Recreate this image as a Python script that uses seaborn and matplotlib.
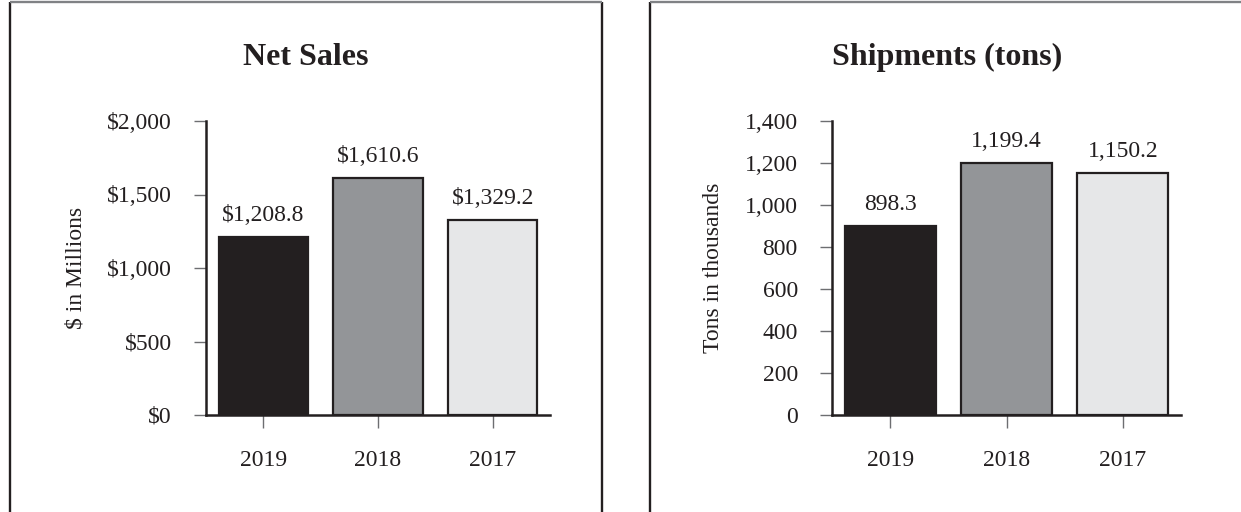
import matplotlib
matplotlib.use("Agg")
import matplotlib.pyplot as plt
from matplotlib.lines import Line2D
import seaborn as sns
import pandas as pd

# Fiscal years shown on both charts
years = ["2019", "2018", "2017"]

# Net sales ($ in millions)
net_sales = [1208.8, 1610.6, 1329.2]
net_sales_labels = ["$1,208.8", "$1,610.6", "$1,329.2"]
sales_ticks = [0, 500, 1000, 1500, 2000]
sales_tick_labels = ["$0", "$500", "$1,000", "$1,500", "$2,000"]

# Shipments (tons in thousands)
shipments = [898.3, 1199.4, 1150.2]
shipments_labels = ["898.3", "1,199.4", "1,150.2"]
ship_ticks = [0, 200, 400, 600, 800, 1000, 1200, 1400]
ship_tick_labels = ["0", "200", "400", "600", "800", "1,000", "1,200", "1,400"]

bar_colors = ["#231f20", "#939598", "#e6e7e8"]
ink = "#231f20"

sns.set_theme(style="white")
plt.rcParams["font.family"] = ["Liberation Serif", "DejaVu Serif"]
plt.rcParams["text.color"] = ink
plt.rcParams["axes.labelcolor"] = ink
plt.rcParams["xtick.color"] = "#6d6e71"
plt.rcParams["ytick.color"] = "#6d6e71"
plt.rcParams["xtick.labelcolor"] = ink
plt.rcParams["ytick.labelcolor"] = ink

fig = plt.figure(figsize=(12.41, 5.12), dpi=100)

ax_sales = fig.add_axes([206 / 1241, 97 / 512, 344 / 1241, 294 / 512])
ax_ship = fig.add_axes([832 / 1241, 97 / 512, 349 / 1241, 294 / 512])


def draw_panel(ax, values, value_labels, ticks, tick_labels, ylabel):
    df = pd.DataFrame({"year": years, "value": values})
    sns.barplot(data=df, x="year", y="value", hue="year", order=years,
                hue_order=years, palette=bar_colors, saturation=1,
                width=0.78, edgecolor=ink, linewidth=1.6, legend=False, ax=ax)
    ax.set_xlim(-0.5, len(years) - 0.5)
    ax.set_ylim(ticks[0], ticks[-1])
    ax.set_yticks(ticks)
    ax.set_yticklabels(tick_labels)
    ax.set_xlabel("")
    ax.set_ylabel(ylabel, fontsize=17, labelpad=15)
    ax.tick_params(axis="y", length=8.6, width=1.0, pad=16, labelsize=17,
                   left=True, direction="out")
    ax.tick_params(axis="x", length=9.4, width=1.0, pad=16, labelsize=17,
                   bottom=True, direction="out")
    for side in ("top", "right"):
        ax.spines[side].set_visible(False)
    for side in ("left", "bottom"):
        ax.spines[side].set_color(ink)
        ax.spines[side].set_linewidth(1.8)
    for i, (v, lab) in enumerate(zip(values, value_labels)):
        ax.annotate(lab, xy=(i, v), xytext=(0, 11.5), textcoords="offset points",
                    ha="center", va="baseline", fontsize=17, color=ink)


draw_panel(ax_sales, net_sales, net_sales_labels, sales_ticks,
           sales_tick_labels, "$ in Millions")
draw_panel(ax_ship, shipments, shipments_labels, ship_ticks,
           ship_tick_labels, "Tons in thousands")

# Panel titles, centred on each framed panel
fig.text(306 / 1241, 1 - 65 / 512, "Net Sales", ha="center", va="baseline",
         fontsize=23, fontweight="bold", color=ink)
fig.text(947 / 1241, 1 - 65 / 512, "Shipments (tons)", ha="center",
         va="baseline", fontsize=23, fontweight="bold", color=ink)

# Frames around the two panels (open at the bottom edge)
W, H = 1241, 512
frame_kw = dict(transform=fig.transFigure, color=ink, linewidth=1.7,
                solid_capstyle="butt")
top_kw = dict(transform=fig.transFigure, color="#808285", linewidth=1.7,
              solid_capstyle="butt")
fig.add_artist(Line2D([10 / W, 10 / W], [0, 1 - 2 / H], **frame_kw))
fig.add_artist(Line2D([602 / W, 602 / W], [0, 1 - 2 / H], **frame_kw))
fig.add_artist(Line2D([10 / W, 602 / W], [1 - 2 / H, 1 - 2 / H], **top_kw))
fig.add_artist(Line2D([650 / W, 650 / W], [0, 1 - 2 / H], **frame_kw))
fig.add_artist(Line2D([650 / W, 1.0], [1 - 2 / H, 1 - 2 / H], **top_kw))

fig.savefig("out.png", dpi=100)
